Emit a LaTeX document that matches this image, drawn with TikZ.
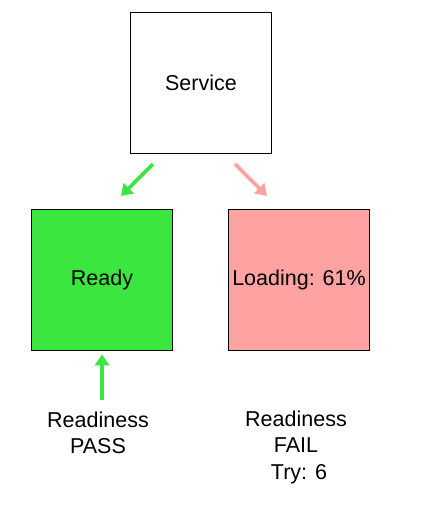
\documentclass[tikz,border=0pt]{standalone}
\usepackage{fontspec}
\setmainfont{Liberation Sans}
\usepackage{tikz}
\usetikzlibrary{arrows.meta}

\definecolor{okgreen}{HTML}{3BE63F}
\definecolor{failpink}{HTML}{FFA2A2}

\begin{document}
\begin{tikzpicture}[x=1pt,y=-1pt,
  podbox/.style={draw,line width=1.8pt,minimum width=141pt,minimum height=141pt,inner sep=0pt,font=\fontsize{21.5}{25}\selectfont},
  caption/.style={align=center,font=\fontsize{21.5}{26.5}\selectfont},
  probe/.style={line width=3.6pt,-{Triangle[length=11pt,width=14pt]}}]
\useasboundingbox (0,0) rectangle (443,514);
\node (srv) at (201,83) [podbox,fill=white] {Service};
\node (ready) at (102,280) [podbox,fill=okgreen] {Ready};
\node (load) at (299,280) [podbox,fill=failpink] {Loading: 61\%};
\node (pass) at (98,433) [caption] {Readiness\\PASS};
\node (fail) at (296,447) [caption] {Readiness\\FAIL\\\ Try: 6};

\coordinate (gs) at (153,164);
\coordinate (ge) at (121,196);
\coordinate (rs) at (235,164);
\coordinate (re) at (267,196);

\draw[probe,okgreen] (gs) -- (ge);
\draw[probe,failpink] (rs) -- (re);
\draw[probe,okgreen,shorten <=8pt,shorten >=3pt] (pass.north -| ready.south) -- (ready.south);
\end{tikzpicture}
\end{document}
